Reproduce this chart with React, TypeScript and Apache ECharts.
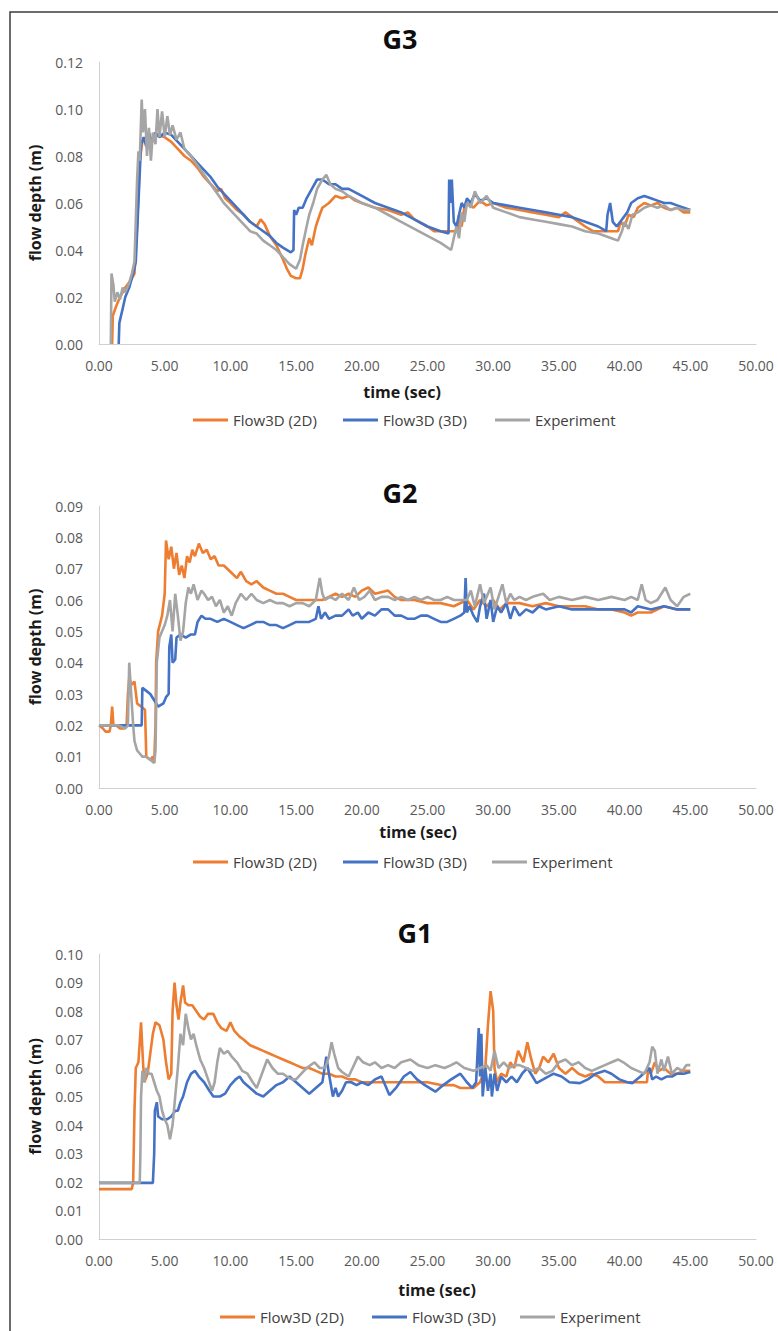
import React, { useEffect, useRef } from "react";
import * as echarts from "echarts";

const SERIES_NAMES = ["Flow3D (2D)", "Flow3D (3D)", "Experiment"];
const COLORS = ["#ED7D31", "#4472C4", "#A5A5A5"];
const TITLES = ["G3", "G2", "G1"];
const X_NAME = "time (sec)";
const Y_NAME = "flow depth (m)";
const Y_MAX = [0.12, 0.09, 0.1];
const Y_INTERVAL = [0.02, 0.01, 0.01];
const X_MAX = 50;
const X_INTERVAL = 5;

// ---- G3 ----
const g3_2d = [[1.0,0.0],[1.05,0.012],[1.3,0.016],[1.6,0.02],[2.0,0.024],[2.4,0.027],[2.7,0.03],[2.9,0.05],[3.1,0.078],[3.3,0.086],[3.6,0.088],[4.0,0.087],[4.5,0.089],[5.0,0.088],[5.5,0.086],[6.0,0.083],[6.5,0.08],[7.0,0.078],[7.5,0.075],[8.0,0.071],[8.5,0.068],[9.0,0.065],[9.3,0.066],[9.6,0.062],[10.0,0.06],[10.5,0.057],[11.0,0.055],[11.5,0.052],[12.0,0.05],[12.3,0.053],[12.6,0.051],[13.0,0.046],[13.5,0.042],[14.0,0.036],[14.3,0.032],[14.6,0.029],[15.0,0.028],[15.3,0.028],[15.5,0.032],[15.7,0.038],[16.0,0.045],[16.2,0.042],[16.5,0.05],[16.8,0.055],[17.0,0.058],[17.5,0.06],[18.0,0.063],[18.5,0.062],[19.0,0.063],[19.5,0.061],[20.0,0.06],[21.0,0.058],[22.0,0.057],[23.0,0.055],[23.5,0.056],[24.0,0.053],[25.0,0.05],[25.5,0.048],[27.3,0.048],[27.4,0.055],[27.6,0.05],[27.8,0.058],[28.0,0.06],[28.5,0.058],[29.0,0.061],[29.5,0.059],[30.0,0.06],[31.0,0.058],[32.0,0.057],[33.0,0.056],[34.0,0.055],[35.0,0.054],[35.5,0.056],[36.0,0.054],[37.0,0.05],[37.6,0.048],[39.5,0.048],[39.7,0.052],[40.0,0.05],[40.3,0.055],[40.7,0.054],[41.0,0.058],[41.5,0.06],[42.0,0.059],[42.5,0.06],[43.0,0.058],[43.5,0.057],[44.0,0.058],[44.5,0.056],[45.0,0.056]];
const g3_3d = [[1.5,0.0],[1.55,0.009],[1.8,0.015],[2.0,0.02],[2.3,0.024],[2.6,0.03],[2.8,0.035],[3.0,0.06],[3.2,0.085],[3.4,0.088],[3.6,0.084],[3.8,0.09],[4.0,0.086],[4.3,0.09],[4.6,0.088],[5.0,0.09],[5.5,0.089],[6.0,0.086],[6.5,0.083],[7.0,0.08],[7.5,0.077],[8.0,0.074],[8.5,0.071],[9.0,0.067],[9.5,0.064],[10.0,0.061],[10.5,0.058],[11.0,0.055],[11.5,0.052],[12.0,0.05],[12.5,0.048],[13.0,0.046],[13.5,0.043],[14.0,0.041],[14.6,0.039],[14.8,0.04],[14.85,0.057],[15.0,0.055],[15.2,0.058],[15.5,0.058],[15.8,0.062],[16.2,0.066],[16.6,0.07],[17.0,0.07],[17.5,0.068],[18.0,0.068],[18.5,0.066],[19.0,0.066],[20.0,0.063],[21.0,0.06],[22.0,0.058],[23.0,0.056],[24.0,0.053],[25.0,0.05],[26.0,0.048],[26.6,0.047],[26.65,0.07],[26.75,0.06],[26.85,0.07],[27.0,0.052],[27.2,0.05],[27.4,0.055],[27.6,0.06],[27.8,0.058],[28.0,0.062],[28.3,0.06],[28.6,0.064],[29.0,0.061],[29.5,0.062],[30.0,0.06],[31.0,0.059],[32.0,0.058],[33.0,0.057],[34.0,0.056],[35.0,0.055],[36.0,0.054],[37.0,0.052],[38.0,0.05],[38.6,0.048],[38.7,0.055],[38.9,0.06],[39.1,0.052],[39.4,0.05],[39.8,0.053],[40.2,0.056],[40.5,0.06],[41.0,0.062],[41.5,0.063],[42.0,0.062],[42.5,0.061],[43.0,0.06],[43.5,0.06],[44.0,0.059],[44.5,0.058],[45.0,0.057]];
const g3_exp = [[0.9,0.0],[0.95,0.03],[1.1,0.025],[1.2,0.018],[1.4,0.022],[1.6,0.019],[1.8,0.024],[2.0,0.022],[2.3,0.026],[2.5,0.03],[2.7,0.035],[2.9,0.07],[3.0,0.082],[3.1,0.078],[3.25,0.104],[3.35,0.09],[3.5,0.1],[3.65,0.08],[3.8,0.092],[3.95,0.078],[4.1,0.09],[4.3,0.085],[4.45,0.1],[4.6,0.088],[4.8,0.099],[5.0,0.088],[5.2,0.097],[5.4,0.089],[5.6,0.093],[5.9,0.087],[6.2,0.09],[6.5,0.083],[7.0,0.08],[7.5,0.076],[8.0,0.072],[8.5,0.068],[9.0,0.064],[9.5,0.06],[10.0,0.057],[10.5,0.054],[11.0,0.051],[11.5,0.048],[12.0,0.047],[12.5,0.044],[13.0,0.042],[13.5,0.04],[14.0,0.037],[14.5,0.034],[15.0,0.032],[15.3,0.036],[15.5,0.042],[15.8,0.05],[16.0,0.055],[16.3,0.06],[16.6,0.066],[17.0,0.07],[17.3,0.072],[17.6,0.068],[18.0,0.066],[18.5,0.065],[19.0,0.063],[20.0,0.06],[21.0,0.058],[22.0,0.055],[23.0,0.052],[24.0,0.049],[25.0,0.046],[26.0,0.043],[26.8,0.04],[27.0,0.045],[27.2,0.05],[27.4,0.045],[27.6,0.056],[27.8,0.052],[28.0,0.06],[28.3,0.058],[28.6,0.065],[29.0,0.06],[29.5,0.063],[30.0,0.058],[31.0,0.056],[32.0,0.054],[33.0,0.053],[34.0,0.052],[35.0,0.051],[36.0,0.05],[37.0,0.048],[38.0,0.047],[39.0,0.045],[39.5,0.044],[39.8,0.048],[40.0,0.052],[40.3,0.049],[40.6,0.055],[41.0,0.056],[41.5,0.058],[42.0,0.059],[42.5,0.058],[43.0,0.059],[43.5,0.057],[44.0,0.058],[44.5,0.057],[45.0,0.057]];

// ---- G2 ----
const g2_2d = [[0,0.02],[0.3,0.019],[0.5,0.018],[0.8,0.018],[0.9,0.02],[1.0,0.026],[1.1,0.02],[1.3,0.02],[1.6,0.019],[1.9,0.019],[2.1,0.02],[2.2,0.03],[2.3,0.035],[2.5,0.033],[2.7,0.034],[2.9,0.027],[3.2,0.026],[3.5,0.025],[3.6,0.01],[3.9,0.009],[4.1,0.01],[4.2,0.008],[4.3,0.02],[4.35,0.04],[4.5,0.05],[4.8,0.055],[5.0,0.062],[5.1,0.079],[5.3,0.073],[5.5,0.077],[5.7,0.07],[5.9,0.075],[6.1,0.068],[6.3,0.071],[6.5,0.067],[6.7,0.074],[6.9,0.072],[7.1,0.076],[7.3,0.074],[7.6,0.078],[7.9,0.075],[8.2,0.076],[8.5,0.073],[8.8,0.074],[9.1,0.071],[9.5,0.071],[10.0,0.069],[10.5,0.067],[10.8,0.069],[11.2,0.066],[11.6,0.065],[12.0,0.066],[12.5,0.064],[13.0,0.063],[13.5,0.062],[14.0,0.062],[14.5,0.061],[15.0,0.06],[16.0,0.06],[17.0,0.06],[17.5,0.061],[18.0,0.062],[18.5,0.061],[19.0,0.062],[19.5,0.061],[20.0,0.063],[20.5,0.064],[21.0,0.062],[22.0,0.063],[22.5,0.061],[23.0,0.06],[24.0,0.06],[25.0,0.059],[26.0,0.059],[27.0,0.058],[28.0,0.06],[28.5,0.057],[29.0,0.06],[29.5,0.058],[30.0,0.06],[30.5,0.057],[31.0,0.059],[32.0,0.059],[33.0,0.058],[34.0,0.059],[35.0,0.058],[36.0,0.058],[37.0,0.058],[38.0,0.057],[39.0,0.057],[40.0,0.056],[40.5,0.055],[41.0,0.056],[42.0,0.056],[43.0,0.058],[44.0,0.057],[45.0,0.057]];
const g2_3d = [[0,0.02],[3.25,0.02],[3.3,0.032],[3.6,0.031],[3.9,0.03],[4.2,0.028],[4.5,0.026],[4.9,0.027],[5.1,0.029],[5.3,0.03],[5.35,0.045],[5.5,0.049],[5.6,0.04],[5.8,0.041],[5.9,0.048],[6.2,0.049],[6.6,0.048],[7.0,0.049],[7.3,0.049],[7.5,0.053],[7.8,0.055],[8.1,0.054],[8.5,0.054],[9.0,0.053],[9.5,0.054],[10.0,0.053],[10.5,0.052],[11.0,0.051],[11.5,0.052],[12.0,0.053],[12.5,0.053],[13.0,0.052],[13.5,0.052],[14.0,0.051],[14.5,0.052],[15.0,0.053],[15.5,0.053],[16.0,0.053],[16.5,0.054],[16.7,0.058],[16.9,0.054],[17.2,0.056],[17.5,0.054],[18.0,0.055],[18.5,0.055],[19.0,0.057],[19.3,0.055],[19.7,0.056],[20.0,0.054],[20.5,0.056],[21.0,0.055],[21.5,0.057],[22.0,0.057],[22.5,0.055],[23.0,0.055],[23.5,0.054],[24.0,0.054],[24.5,0.055],[25.0,0.055],[25.5,0.054],[26.0,0.053],[26.5,0.053],[27.0,0.054],[27.5,0.055],[27.8,0.056],[27.9,0.067],[28.0,0.056],[28.2,0.058],[28.5,0.055],[28.8,0.053],[29.0,0.058],[29.3,0.062],[29.5,0.054],[29.8,0.06],[30.0,0.053],[30.3,0.058],[30.6,0.056],[31.0,0.059],[31.3,0.054],[31.6,0.058],[32.0,0.055],[32.5,0.057],[33.0,0.056],[33.5,0.058],[34.0,0.057],[35.0,0.058],[36.0,0.057],[37.0,0.057],[38.0,0.057],[39.0,0.057],[40.0,0.057],[40.5,0.056],[41.0,0.058],[42.0,0.057],[43.0,0.058],[44.0,0.057],[45.0,0.057]];
const g2_exp = [[0,0.02],[1.5,0.02],[2.0,0.019],[2.2,0.02],[2.3,0.04],[2.45,0.03],[2.6,0.02],[2.7,0.015],[2.9,0.012],[3.1,0.011],[3.3,0.01],[3.6,0.01],[3.9,0.009],[4.2,0.008],[4.3,0.012],[4.4,0.04],[4.6,0.048],[4.8,0.05],[5.0,0.052],[5.2,0.055],[5.4,0.06],[5.6,0.05],[5.8,0.062],[6.0,0.055],[6.2,0.047],[6.4,0.05],[6.6,0.059],[6.8,0.064],[7.0,0.062],[7.2,0.065],[7.5,0.06],[7.8,0.063],[8.0,0.062],[8.3,0.06],[8.6,0.061],[8.9,0.058],[9.2,0.06],[9.5,0.056],[9.8,0.058],[10.1,0.055],[10.4,0.059],[10.8,0.062],[11.2,0.06],[11.6,0.062],[12.0,0.06],[12.5,0.059],[13.0,0.06],[13.5,0.059],[14.0,0.059],[14.5,0.058],[15.0,0.059],[15.5,0.059],[16.0,0.058],[16.5,0.06],[16.8,0.067],[17.0,0.062],[17.2,0.06],[17.6,0.061],[18.0,0.06],[18.5,0.062],[19.0,0.06],[19.4,0.064],[19.8,0.06],[20.2,0.061],[20.6,0.063],[21.0,0.06],[21.5,0.061],[22.0,0.061],[22.5,0.06],[23.0,0.061],[23.5,0.06],[24.0,0.061],[24.5,0.06],[25.0,0.061],[25.5,0.06],[26.0,0.06],[26.5,0.061],[27.0,0.06],[27.5,0.06],[28.0,0.06],[28.3,0.063],[28.6,0.058],[29.0,0.065],[29.3,0.059],[29.8,0.064],[30.1,0.057],[30.7,0.065],[31.0,0.059],[31.3,0.062],[31.6,0.06],[32.0,0.061],[32.5,0.06],[33.0,0.061],[33.8,0.062],[34.3,0.06],[35.0,0.061],[36.0,0.06],[37.0,0.061],[38.0,0.06],[39.0,0.061],[40.0,0.06],[40.5,0.061],[41.0,0.06],[41.3,0.065],[41.6,0.06],[42.0,0.059],[42.5,0.06],[43.1,0.064],[43.5,0.06],[44.0,0.058],[44.5,0.061],[45.0,0.062]];

// ---- G1 ----
const g1_2d = [[0,0.0175],[2.5,0.0175],[2.6,0.02],[2.7,0.045],[2.8,0.06],[3.0,0.062],[3.2,0.076],[3.35,0.062],[3.45,0.055],[3.7,0.058],[3.9,0.065],[4.1,0.072],[4.3,0.076],[4.6,0.075],[4.9,0.07],[5.1,0.062],[5.3,0.056],[5.5,0.058],[5.6,0.08],[5.75,0.09],[5.9,0.082],[6.05,0.077],[6.2,0.083],[6.4,0.089],[6.55,0.083],[6.8,0.082],[7.1,0.082],[7.4,0.08],[7.7,0.078],[8.0,0.077],[8.3,0.079],[8.7,0.079],[9.0,0.076],[9.3,0.074],[9.7,0.073],[10.0,0.076],[10.3,0.073],[10.7,0.071],[11.0,0.07],[11.5,0.068],[12.0,0.067],[12.5,0.066],[13.0,0.065],[13.5,0.064],[14.0,0.063],[14.5,0.062],[15.0,0.061],[15.5,0.06],[16.0,0.06],[16.5,0.059],[17.0,0.058],[17.5,0.058],[18.0,0.057],[18.5,0.057],[19.0,0.056],[19.5,0.056],[20.0,0.055],[21.0,0.055],[22.0,0.055],[23.0,0.055],[24.0,0.055],[25.0,0.055],[26.0,0.054],[27.0,0.054],[27.5,0.053],[28.5,0.053],[29.0,0.055],[29.4,0.06],[29.6,0.075],[29.8,0.087],[30.0,0.08],[30.1,0.06],[30.3,0.055],[30.6,0.058],[31.0,0.057],[31.3,0.062],[31.6,0.06],[31.9,0.066],[32.3,0.062],[32.6,0.069],[32.9,0.063],[33.2,0.058],[33.5,0.06],[33.8,0.064],[34.2,0.062],[34.6,0.065],[35.0,0.06],[35.5,0.058],[36.0,0.06],[36.5,0.058],[37.0,0.057],[37.5,0.058],[38.0,0.057],[38.5,0.055],[41.7,0.055],[41.8,0.06],[42.0,0.058],[42.3,0.062],[42.6,0.059],[43.0,0.06],[43.5,0.058],[44.0,0.058],[44.5,0.059],[45.0,0.059]];
const g1_3d = [[0,0.0197],[4.1,0.0197],[4.2,0.03],[4.25,0.045],[4.4,0.048],[4.5,0.043],[4.8,0.042],[5.2,0.042],[5.5,0.043],[5.8,0.045],[6.0,0.045],[6.2,0.048],[6.4,0.05],[6.7,0.055],[7.0,0.058],[7.3,0.059],[7.6,0.057],[8.0,0.055],[8.4,0.052],[8.7,0.05],[9.2,0.05],[9.6,0.051],[10.0,0.054],[10.4,0.056],[10.7,0.057],[11.0,0.055],[11.5,0.053],[12.0,0.051],[12.5,0.05],[13.0,0.052],[13.5,0.054],[14.0,0.055],[14.5,0.057],[15.0,0.055],[15.5,0.053],[16.0,0.051],[16.5,0.053],[17.0,0.055],[17.3,0.064],[17.5,0.058],[17.8,0.05],[18.0,0.053],[18.2,0.05],[18.5,0.052],[18.8,0.055],[19.2,0.055],[19.6,0.054],[20.0,0.055],[20.5,0.054],[21.0,0.056],[21.5,0.057],[22.1,0.0505],[22.6,0.053],[23.2,0.057],[23.7,0.0586],[24.2,0.056],[24.8,0.054],[25.6,0.0517],[26.2,0.054],[26.8,0.056],[27.5,0.058],[28.0,0.055],[28.4,0.053],[28.7,0.055],[28.9,0.074],[29.0,0.057],[29.1,0.072],[29.2,0.05],[29.4,0.06],[29.6,0.052],[29.8,0.058],[29.9,0.05],[30.1,0.058],[30.3,0.052],[30.6,0.057],[31.0,0.055],[31.4,0.057],[31.8,0.055],[32.2,0.058],[32.6,0.06],[33.0,0.057],[33.3,0.0547],[33.8,0.056],[34.6,0.058],[35.2,0.057],[35.8,0.055],[36.6,0.0547],[37.2,0.056],[37.8,0.058],[38.5,0.059],[39.0,0.058],[39.6,0.056],[40.2,0.055],[40.6,0.0547],[41.2,0.057],[41.9,0.06],[42.1,0.056],[42.4,0.057],[42.8,0.056],[43.2,0.057],[43.6,0.057],[44.0,0.058],[44.5,0.058],[45.0,0.0586]];
const g1_exp = [[0,0.0197],[3.1,0.0197],[3.15,0.03],[3.2,0.05],[3.3,0.059],[3.45,0.055],[3.6,0.06],[3.8,0.058],[4.0,0.058],[4.2,0.055],[4.4,0.052],[4.6,0.05],[4.8,0.045],[5.0,0.042],[5.2,0.04],[5.4,0.035],[5.6,0.04],[5.8,0.05],[6.0,0.06],[6.2,0.072],[6.4,0.068],[6.6,0.079],[6.8,0.074],[7.0,0.07],[7.2,0.072],[7.4,0.068],[7.7,0.063],[8.0,0.06],[8.3,0.056],[8.6,0.052],[8.8,0.055],[9.0,0.062],[9.2,0.067],[9.5,0.065],[9.8,0.066],[10.1,0.064],[10.5,0.062],[10.9,0.059],[11.3,0.058],[11.7,0.055],[12.0,0.053],[12.4,0.058],[12.8,0.063],[13.2,0.06],[13.6,0.058],[14.0,0.058],[14.3,0.057],[14.7,0.056],[15.0,0.056],[15.4,0.058],[15.8,0.06],[16.4,0.062],[16.8,0.06],[17.2,0.06],[17.5,0.064],[17.7,0.069],[17.9,0.065],[18.2,0.06],[18.5,0.0586],[19.0,0.057],[19.3,0.06],[19.7,0.064],[20.1,0.062],[20.6,0.061],[21.0,0.062],[21.5,0.06],[22.0,0.061],[22.5,0.06],[23.0,0.062],[23.7,0.063],[24.3,0.061],[25.0,0.06],[25.6,0.061],[26.3,0.06],[26.8,0.061],[27.2,0.062],[27.8,0.06],[28.5,0.059],[29.0,0.06],[29.5,0.061],[29.8,0.059],[30.1,0.066],[30.4,0.06],[30.8,0.062],[31.2,0.06],[31.6,0.061],[32.0,0.061],[32.5,0.06],[33.0,0.059],[33.5,0.06],[34.0,0.058],[34.5,0.059],[35.0,0.062],[35.5,0.063],[36.0,0.061],[36.5,0.062],[37.0,0.06],[37.5,0.059],[38.0,0.06],[38.5,0.061],[39.0,0.062],[39.5,0.063],[39.9,0.062],[40.5,0.06],[41.0,0.059],[41.5,0.058],[41.9,0.062],[42.1,0.0675],[42.3,0.066],[42.5,0.058],[42.8,0.063],[43.0,0.059],[43.3,0.064],[43.6,0.058],[44.0,0.06],[44.4,0.059],[44.7,0.061],[45.0,0.061]];

const DATA = [
  [g3_2d, g3_3d, g3_exp],
  [g2_2d, g2_3d, g2_exp],
  [g1_2d, g1_3d, g1_exp],
];

// layout (pixels)
const FONT = "'Open Sans', 'Liberation Sans', sans-serif";
const LAYOUT = [
  { top: 62, height: 282, titleX: 400, titleY: 38, xNameX: 402, xNameY: 392, legendY: 420, legendX: [193, 343, 495] },
  { top: 506, height: 282, titleX: 400, titleY: 492, xNameX: 418, xNameY: 832, legendY: 862, legendX: [193, 343, 492] },
  { top: 954, height: 285, titleX: 415, titleY: 932, xNameX: 437, xNameY: 1290, legendY: 1317, legendX: [220, 372, 520] },
];

export default function App() {
  const ref = useRef<HTMLDivElement | null>(null);
  useEffect(() => {
    if (!ref.current) return;
    const chart = echarts.init(ref.current, null, { renderer: "svg" });
    const grid: any[] = [];
    const xAxis: any[] = [];
    const yAxis: any[] = [];
    const series: any[] = [];
    const title: any[] = [];
    const legend: any[] = [];
    const graphic: any[] = [
      {
        type: "rect",
        shape: { x: 10, y: 12, width: 820, height: 1400 },
        style: { fill: "none", stroke: "#3c3c3c", lineWidth: 1.5 },
        silent: true,
        z: 100,
      },
    ];
    LAYOUT.forEach((L, i) => {
      grid.push({ left: 99, right: 22, top: L.top, height: L.height, containLabel: false });
      xAxis.push({
        type: "value",
        gridIndex: i,
        min: 0,
        max: X_MAX,
        interval: X_INTERVAL,
        axisLine: { show: true, lineStyle: { color: "#D0D0D0", width: 1 } },
        axisTick: { show: false },
        splitLine: { show: false },
        axisLabel: {
          formatter: (v: number) => v.toFixed(2),
          color: "#595959",
          fontSize: 14,
          fontFamily: FONT,
          margin: 14,
        },
      });
      yAxis.push({
        type: "value",
        gridIndex: i,
        min: 0,
        max: Y_MAX[i],
        interval: Y_INTERVAL[i],
        name: Y_NAME,
        nameLocation: "middle",
        nameGap: 56,
        nameTextStyle: { fontSize: 16, fontWeight: "bold", color: "#1a1a1a", fontFamily: FONT },
        axisLine: { show: true, lineStyle: { color: "#D0D0D0", width: 1 } },
        axisTick: { show: false },
        splitLine: { show: false },
        axisLabel: {
          formatter: (v: number) => v.toFixed(2),
          color: "#595959",
          fontSize: 14,
          fontFamily: FONT,
          margin: 16,
        },
      });
      title.push({
        text: TITLES[i],
        left: L.titleX,
        top: L.titleY - 17,
        textAlign: "center",
        padding: 0,
        textStyle: { fontSize: 27, fontWeight: "bold", color: "#0d0d0d", fontFamily: FONT, lineHeight: 34 },
      });
      graphic.push({
        type: "text",
        x: L.xNameX,
        y: L.xNameY,
        silent: true,
        style: {
          text: X_NAME,
          align: "center",
          verticalAlign: "middle",
          fontSize: 16,
          fontWeight: "bold",
          fontFamily: FONT,
          fill: "#1a1a1a",
        },
      });
      DATA[i].forEach((d, j) => {
        series.push({
          name: SERIES_NAMES[j],
          type: "line",
          xAxisIndex: i,
          yAxisIndex: i,
          data: d,
          showSymbol: false,
          symbol: "none",
          lineStyle: { color: COLORS[j], width: 2.6 },
          itemStyle: { color: COLORS[j] },
          z: 2 + j,
        });
        legend.push({
          data: [SERIES_NAMES[j]],
          left: L.legendX[j],
          top: L.legendY - 9,
          icon: "rect",
          itemWidth: 35,
          itemHeight: 3,
          padding: 0,
          selectedMode: false,
          textStyle: { fontSize: 15, color: "#404040", fontFamily: FONT, lineHeight: 18 },
        });
      });
    });
    chart.setOption({
      animation: false,
      backgroundColor: "#ffffff",
      grid,
      xAxis,
      yAxis,
      series,
      title,
      legend,
      graphic,
    });
    return () => chart.dispose();
  }, []);
  return (
    <div
      ref={ref}
      style={{ position: "absolute", left: 0, top: 0, width: 778, height: 1331 }}
    />
  );
}
